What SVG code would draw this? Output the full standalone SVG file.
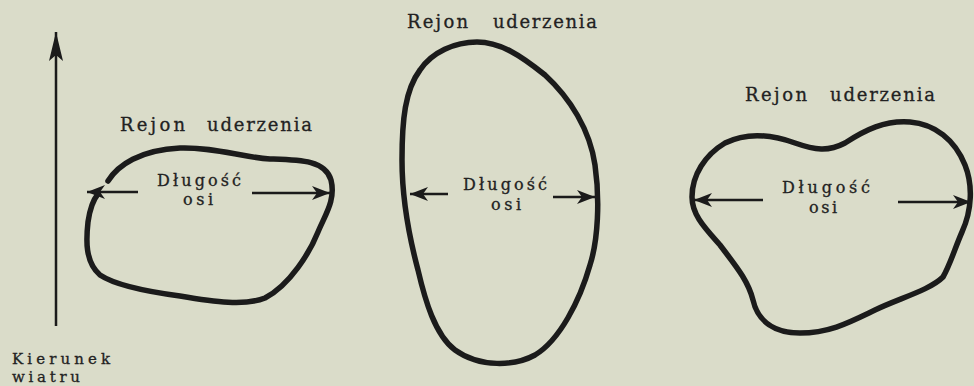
<svg xmlns="http://www.w3.org/2000/svg" width="974" height="386" viewBox="0 0 974 386">
<defs>
<style>
.bg{fill:#dadcc9}
.shape{fill:none;stroke:#1b1b1b;stroke-width:5.5;stroke-linecap:round;stroke-linejoin:round}
.ax{fill:none;stroke:#1b1b1b;stroke-width:2.5}
.lbl{font-family:"DejaVu Serif","Liberation Serif",serif;font-size:18px;fill:#222;stroke:#222;stroke-width:0.3}
.mid{font-family:"DejaVu Serif","Liberation Serif",serif;font-size:16px;fill:#222;stroke:#222;stroke-width:0.3}
.sm{font-family:"DejaVu Serif","Liberation Serif",serif;font-size:15px;fill:#222;stroke:#222;stroke-width:0.3}
</style>
<marker id="ah" markerUnits="userSpaceOnUse" markerWidth="20" markerHeight="14" refX="18" refY="7" orient="auto">
<path d="M0,0 L18,7 L0,14 L5,7 Z" fill="#1b1b1b"/>
</marker>
<marker id="wind" markerUnits="userSpaceOnUse" markerWidth="30" markerHeight="16" refX="29" refY="8" orient="auto">
<path d="M0,1 L29,8 L0,15 L6,8 Z" fill="#1b1b1b"/>
</marker>
</defs>
<rect class="bg" x="0" y="0" width="974" height="386"/>

<g id="wind-direction">
<line class="ax" x1="56" y1="326" x2="56" y2="32" marker-end="url(#wind)"/>
<text class="sm" x="12" y="364" textLength="98" lengthAdjust="spacing">Kierunek</text>
<text class="sm" x="12" y="382" textLength="68" lengthAdjust="spacing">wiatru</text>
</g>

<g id="region-left">
<path class="shape" d="M108,181 C118,165 140,150 180,148 C215,147 240,157 270,159 C300,160 325,160 331,180 C336,200 325,215 318,232 C310,252 290,285 265,298 C245,306 215,302 180,296 C150,292 115,285 100,275 C85,262 86,240 88,222 C90,208 93,200 98,194"/>
<text class="lbl" x="120" y="131" textLength="65" lengthAdjust="spacing">Rejon</text>
<text class="lbl" x="207" y="131" textLength="105" lengthAdjust="spacing">uderzenia</text>
<text class="mid" x="157" y="186" textLength="84" lengthAdjust="spacing">Długość</text>
<text class="mid" x="183" y="205" textLength="30" lengthAdjust="spacing">osi</text>
</g>

<g id="region-middle">
<path class="shape" d="M477,42 C500,42 520,55 545,75 C570,98 590,130 595,165 C600,200 598,240 590,265 C580,300 560,340 535,355 C515,366 480,368 455,350 C435,335 425,300 418,270 C410,240 402,200 402,160 C402,120 405,90 420,70 C432,52 455,42 477,42 Z"/>
<text class="lbl" x="407" y="28" textLength="61" lengthAdjust="spacing">Rejon</text>
<text class="lbl" x="493" y="28" textLength="104" lengthAdjust="spacing">uderzenia</text>
<text class="mid" x="463" y="190" textLength="84" lengthAdjust="spacing">Długość</text>
<text class="mid" x="491" y="210" textLength="30" lengthAdjust="spacing">osi</text>
</g>

<g id="region-right">
<path class="shape" d="M692,197 C692,175 705,155 725,143 C745,133 770,134 795,143 C815,150 828,152 845,143 C865,130 885,120 910,122 C935,124 955,140 965,165 C973,185 972,210 962,232 C955,248 950,265 943,277 C930,290 900,298 875,310 C850,322 830,333 800,333 C775,333 758,322 753,300 C748,280 735,265 720,245 C705,228 692,215 692,197 Z"/>
<text class="lbl" x="745" y="101" textLength="62" lengthAdjust="spacing">Rejon</text>
<text class="lbl" x="830" y="101" textLength="105" lengthAdjust="spacing">uderzenia</text>
<text class="mid" x="782" y="193" textLength="88" lengthAdjust="spacing">Długość</text>
<text class="mid" x="809" y="213" textLength="28" lengthAdjust="spacing">osi</text>
</g>

<g id="connectors">
<line class="ax" x1="138" y1="192" x2="87" y2="192" marker-end="url(#ah)"/>
<line class="ax" x1="252" y1="193" x2="330" y2="193" marker-end="url(#ah)"/>
<line class="ax" x1="448" y1="194" x2="410" y2="194" marker-end="url(#ah)"/>
<line class="ax" x1="553" y1="197" x2="595" y2="197" marker-end="url(#ah)"/>
<line class="ax" x1="763" y1="200" x2="694" y2="200" marker-end="url(#ah)"/>
<line class="ax" x1="898" y1="202" x2="971" y2="202" marker-end="url(#ah)"/>
</g>
</svg>
